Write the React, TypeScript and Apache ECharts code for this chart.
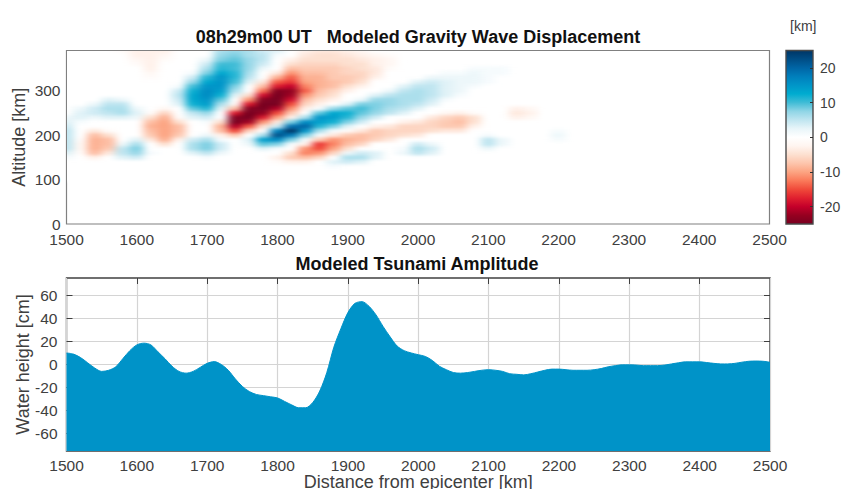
import React, { useEffect, useRef } from "react";
import * as echarts from "echarts";

const FONT = '"Liberation Sans", Arial, sans-serif';
const TEXT = "#404040";

const colorLevels = ["#780020","#960020","#c4002a","#e0202f","#f04a3a","#fa7a5a","#fca482","#fdc5ac","#fde0d0","#fff5f0","#ffffff","#e8f5f9","#bfe5f0","#8fd5e6","#40bcd6","#00acd0","#0095c8","#007fbc","#0065a5","#004d85","#003565"];

const altitudeRows = Array.from({ length: 31 }, (_, i) => 100 + i * 10);
const distanceColumns = Array.from({ length: 37 }, (_, i) => 1500 + i * 20);

// One list per distance column, read upward from 100 km in 10 km steps; missing tail = 0.
const displacementByColumn: number[][] = [
  [0,0,0,0,0,1,3,5,5,5,5,5,4,3,2],
  [0,0,0,0,0,0,-1,-2,-2,-1,0,0,0,1,3,3,2],
  [0,0,0,0,0,-3,-8,-9,-9,-9,-8,-4,0,0,2,4,4,2],
  [0,0,0,0,0,0,-4,-7,-8,-8,-5,-1,0,0,3,5,6,5,3],
  [0,0,0,0,0,3,5,5,2,0,0,0,0,0,3,6,6,5,2,0,0,0,0,0,0,0,0,0,0,-1,-1],
  [0,0,0,0,0,4,7,8,6,3,0,0,0,0,2,3,2,0,0,0,0,0,0,0,0,0,-1,-2,-3,-3,-3],
  [0,0,0,0,0,0,1,0,0,-4,-7,-8,-9,-8,-5,-1,0,0,0,0,0,0,0,-1,-2,-3,-3,-3,-3,-3,-3],
  [0,0,0,0,0,0,0,0,-5,-9,-10,-10,-10,-10,-9,-6,-2,0,0,0,0,0,0,0,0,0,0,-1,-2,-3,-3],
  [0,0,0,0,0,0,0,0,0,-3,-7,-8,-8,-5,-1,0,0,3,4,5,4,1],
  [0,0,0,0,0,0,3,6,6,4,0,0,0,0,3,5,9,12,13,13,12,10,7,4,1],
  [0,0,0,0,0,1,5,8,8,6,2,0,0,1,4,7,11,14,15,16,16,15,13,11,8,6,4,2],
  [0,0,0,0,0,0,2,4,4,1,-3,-8,-9,-5,0,0,3,6,9,12,14,15,15,15,13,11,10,8,7,6,5],
  [0,0,0,0,0,0,0,0,0,0,-7,-15,-21,-25,-24,-18,-8,-2,0,3,6,8,10,11,11,10,10,9,8,7,6],
  [0,0,0,0,0,0,0,0,2,3,0,-6,-14,-22,-25,-26,-24,-18,-11,-5,0,0,3,5,6,7,7,7,6,6,5],
  [0,0,0,0,0,0,0,3,9,14,6,0,-5,-11,-18,-23,-26,-26,-24,-19,-13,-8,-4,0,0,2,4,5,5,4,3],
  [0,0,0,0,-1,-3,0,1,8,16,22,17,4,-4,-10,-15,-21,-25,-26,-26,-24,-18,-14,-9,-4,0,0,0,1,3,2],
  [0,0,0,0,-3,-7,-5,0,1,8,18,25,19,8,-3,-7,-11,-15,-19,-22,-23,-20,-16,-14,-11,-8,-5,-3],
  [0,0,0,0,-3,-8,-12,-11,-3,1,8,15,20,16,6,0,-3,-6,-8,-11,-14,-12,-10,-9,-8,-7,-6,-5,-4,-3,-2],
  [0,0,0,0,0,-6,-11,-15,-16,-7,1,6,11,14,15,9,1,-3,-5,-7,-8,-9,-9,-9,-8,-7,-6,-5,-5,-4,-3],
  [0,0,0,1,3,0,-6,-10,-12,-11,-4,1,8,12,14,13,7,0,-3,-5,-6,-8,-8,-7,-7,-7,-6,-5,-5,-4,-3],
  [0,0,0,0,4,6,2,-5,-8,-9,-7,-1,3,8,11,12,9,3,0,0,-3,-5,-7,-7,-6,-6,-5,-5,-4,-3,-2],
  [0,0,0,0,3,6,4,0,-6,-8,-8,-4,0,4,7,9,10,8,2,0,0,-3,-5,-6,-6,-5,-5,-4,-3,-2],
  [0,0,0,0,0,3,3,0,0,-6,-7,-7,-3,0,4,7,8,8,7,3,0,0,0,-3,-4,-4,-3,-3,-2],
  [0,0,0,0,0,0,0,0,0,-4,-6,-6,-4,0,0,5,6,7,7,5,2,0,0,0,0,-1,-2,-2,-1],
  [0,0,0,0,0,0,2,1,0,0,-5,-6,-6,-3,0,3,5,6,6,6,5,3],
  [0,0,0,0,0,0,5,6,4,0,-4,-6,-6,-4,0,0,3,5,6,6,6,5,3],
  [0,0,0,0,0,0,3,4,2,0,0,-5,-6,-6,-4,0,0,3,4,5,5,5,4,2],
  [0,0,0,0,0,0,0,0,0,0,0,-4,-7,-7,-6,-2,0,0,1,3,3,3,3,2,1],
  [0,0,0,0,0,0,0,0,0,0,0,-4,-7,-8,-7,-3,0,0,0,1,2,2,2,2,1],
  [0,0,0,0,0,0,0,0,0,0,0,0,-3,-5,-5,-1,0,0,0,0,0,1,2,2,2,1],
  [0,0,0,0,0,0,0,2,5,5,1,0,0,0,0,0,0,0,0,0,0,0,1,1,1,1],
  [0,0,0,0,0,0,0,0,2,2,0,0,0,0,0,0,0,0,0,0,0,0,0,0,1,1],
  [0,0,0,0,0,0,0,0,0,0,0,0,0,0,-3,-4,-3],
  [0,0,0,0,0,0,0,0,0,0,0,0,0,0,-2,-3,-2],
  [],
  [0,0,0,0,0,0,0,0,0,1,2,1],
  [],
];

const tsunamiDistance = Array.from({ length: 101 }, (_, i) => 1500 + i * 10);
const tsunamiHeight = [
  10,9,6,1.5,-3,-6,-5,-2,5,12,17,18.5,17,11,5,-1.5,-6,-7.5,-6,-2.5,
  1,2.5,0,-5,-12.5,-19,-23.5,-26,-27,-28,-29,-32,-35,-37.5,-37.5,-33,-23,-7,15,31,
  45,53,54.5,50.5,43,33,24,16,12,10,8.5,7,3.5,-1.5,-4.5,-7,-7.5,-7,-6,-5,
  -4.5,-5,-6,-8,-8.5,-9,-8,-6.5,-5,-4,-4,-4.5,-5,-5,-5,-4.5,-3.5,-2,-1,-0.3,
  -0.3,-0.5,-1,-1,-1,-0.5,0.5,1.5,2.3,2.3,2.3,1.7,1,0.5,0.5,1,2,2.8,3,2.8,2,
];

const distanceTicks = [1500, 1600, 1700, 1800, 1900, 2000, 2100, 2200, 2300, 2400, 2500];
const altitudeTicks = [0, 100, 200, 300];
const heightTicks = [-60, -40, -20, 0, 20, 40, 60];
const colorbarTicks = [-20, -10, 0, 10, 20];

const PLOT = { left: 66.5, top: 50.5, width: 703, height: 173.5 };
const pxPerKmX = PLOT.width / 1000;
const pxPerKmY = PLOT.height / 390;

export default function App() {
  const heatRef = useRef<HTMLDivElement>(null);
  const mainRef = useRef<HTMLDivElement>(null);

  useEffect(() => {
    document.body.style.margin = "0";
    const heat = echarts.init(heatRef.current!, undefined, { renderer: "svg" });
    const main = echarts.init(mainRef.current!, undefined, { renderer: "svg" });

    const cells: number[][] = [];
    distanceColumns.forEach((_, i) => {
      altitudeRows.forEach((_, j) => {
        cells.push([i, j, displacementByColumn[i][j] ?? 0]);
      });
    });

    heat.setOption({
      animation: false,
      grid: {
        left: PLOT.left - 10 * pxPerKmX,
        width: (distanceColumns.length * 20) * pxPerKmX,
        top: PLOT.top + PLOT.height - 405 * pxPerKmY,
        height: 310 * pxPerKmY,
        outerBoundsMode: "none",
      },
      xAxis: { type: "category", data: distanceColumns, show: false },
      yAxis: { type: "category", data: altitudeRows, show: false },
      visualMap: { show: false, min: -25, max: 25, inRange: { color: colorLevels }, calculable: false },
      series: [{ type: "heatmap", data: cells, progressive: 0, itemStyle: { borderWidth: 0 } }],
    });

    const plainNumber = (v: number) => String(v);
    const tickLabel = { color: TEXT, fontFamily: FONT, fontSize: 15.5, formatter: plainNumber };
    const nameStyle = { color: TEXT, fontFamily: FONT, fontSize: 18 };
    const titleStyle = { color: "#111", fontFamily: FONT, fontSize: 18, fontWeight: "bold" as const };
    const hiddenLine = { show: false, onZero: false };

    main.setOption({
      animation: false,
      title: [
        { text: "08h29m00 UT   Modeled Gravity Wave Displacement", left: 413, top: 23, textAlign: "center", textStyle: titleStyle },
        { text: "Modeled Tsunami Amplitude", left: 412, top: 250, textAlign: "center", textStyle: titleStyle },
        { text: "[km]", left: 785, top: 14, textStyle: { color: TEXT, fontFamily: FONT, fontSize: 14, fontWeight: "normal" } },
      ],
      grid: [
        { left: PLOT.left, top: PLOT.top, width: PLOT.width, height: PLOT.height, outerBoundsMode: "none", show: true, borderColor: "#808080", borderWidth: 1.2, backgroundColor: "transparent" },
        { left: 66.5, top: 278, width: 703.5, height: 173, outerBoundsMode: "none", show: true, borderColor: "#404040", borderWidth: 1.4, backgroundColor: "#fff" },
        { left: 786, top: 50.5, width: 27, height: 173.5, outerBoundsMode: "none" },
      ],
      xAxis: [
        {
          gridIndex: 0, type: "value", min: 1500, max: 2500, interval: 100,
          axisLine: hiddenLine, axisTick: { show: false }, splitLine: { show: false },
          axisLabel: { ...tickLabel, margin: 7 },
        },
        {
          gridIndex: 1, type: "value", min: 1500, max: 2500, interval: 100,
          axisLine: hiddenLine, axisTick: { show: false },
          splitLine: { show: true, lineStyle: { color: "#d4d4d4", width: 1.2 } },
          axisLabel: { ...tickLabel, margin: 6 },
          name: "Distance from epicenter [km]", nameLocation: "middle", nameGap: 22, nameMoveOverlap: false, nameTextStyle: nameStyle,
        },
        {
          gridIndex: 1, type: "value", position: "top", min: 1500, max: 2500, interval: 100,
          axisLine: hiddenLine, splitLine: { show: false }, axisLabel: { show: false },
          axisTick: { show: true, inside: true, length: 6, lineStyle: { color: "#404040", width: 1 },
            customValues: distanceTicks.slice(1, -1) },
        },
        { gridIndex: 2, type: "value", min: 0, max: 1, show: false },
      ],
      yAxis: [
        {
          gridIndex: 0, type: "value", min: 0, max: 390,
          axisLine: hiddenLine, axisTick: { show: false, customValues: altitudeTicks }, splitLine: { show: false },
          axisLabel: { ...tickLabel, margin: 6, customValues: altitudeTicks },
          name: "Altitude [km]", nameLocation: "middle", nameGap: 39, nameMoveOverlap: false, nameTextStyle: nameStyle,
        },
        {
          gridIndex: 1, type: "value", min: -75, max: 75,
          axisLine: hiddenLine,
          axisTick: { show: true, inside: true, length: 6, lineStyle: { color: "#404040", width: 1 }, customValues: heightTicks },
          splitLine: { show: true, lineStyle: { color: "#d4d4d4", width: 1.2 } },
          axisLabel: { ...tickLabel, margin: 9, customValues: heightTicks },
          name: "Water height [cm]", nameLocation: "middle", nameGap: 34.5, nameMoveOverlap: false, nameTextStyle: nameStyle,
        },
        {
          gridIndex: 1, type: "value", position: "right", min: -75, max: 75,
          axisLine: hiddenLine, splitLine: { show: false }, axisLabel: { show: false },
          axisTick: { show: true, inside: true, length: 6, lineStyle: { color: "#404040", width: 1 }, customValues: heightTicks },
        },
        {
          gridIndex: 2, type: "value", position: "right", min: -25, max: 25, z: 5,
          axisLine: hiddenLine, splitLine: { show: false },
          axisTick: { show: true, inside: true, length: 3, lineStyle: { color: "#333", width: 1 }, customValues: colorbarTicks },
          axisLabel: { color: TEXT, fontFamily: FONT, fontSize: 14, margin: 7, customValues: colorbarTicks, formatter: plainNumber },
        },
      ],
      series: [
        {
          type: "line", xAxisIndex: 1, yAxisIndex: 1, z: 2,
          data: tsunamiDistance.map((d, i) => [d, tsunamiHeight[i]]),
          showSymbol: false, smooth: 0.3,
          lineStyle: { color: "#0093c8", width: 1 },
          areaStyle: { color: "#0093c8", opacity: 1, origin: "start" },
        },
        {
          type: "custom", xAxisIndex: 3, yAxisIndex: 3, z: 2, silent: true,
          data: [[0, -25, 1, 25]],
          renderItem: (_p: any, api: any) => {
            const a = api.coord([api.value(0), api.value(1)]);
            const b = api.coord([api.value(2), api.value(3)]);
            return {
              type: "rect",
              shape: { x: a[0], y: b[1], width: b[0] - a[0], height: a[1] - b[1] },
              style: {
                stroke: "#4a4a4a", lineWidth: 1.4,
                fill: new echarts.graphic.LinearGradient(0, 1, 0, 0,
                  colorLevels.map((color, i) => ({ offset: i / (colorLevels.length - 1), color }))),
              },
            };
          },
        },
      ],
    });

    return () => {
      heat.dispose();
      main.dispose();
    };
  }, []);

  const clip = { left: 67, top: 51, width: 702, height: 173 };
  return (
    <div style={{ position: "absolute", left: 0, top: 0, width: 842, height: 489, background: "#fff", overflow: "hidden" }}>
      <svg width={0} height={0} style={{ position: "absolute" }}>
        <defs>
          <filter id="heatBlur" x="0" y="0" width="100%" height="100%" colorInterpolationFilters="sRGB">
            <feGaussianBlur stdDeviation="4.5 1.5" />
          </filter>
        </defs>
      </svg>
      <div ref={mainRef} style={{ position: "absolute", left: 0, top: 0, width: 842, height: 489 }} />
      <div style={{ position: "absolute", ...clip, overflow: "hidden" }}>
        <div ref={heatRef} style={{ position: "absolute", left: -clip.left, top: -clip.top, width: 842, height: 489, filter: "url(#heatBlur)" }} />
      </div>
    </div>
  );
}
